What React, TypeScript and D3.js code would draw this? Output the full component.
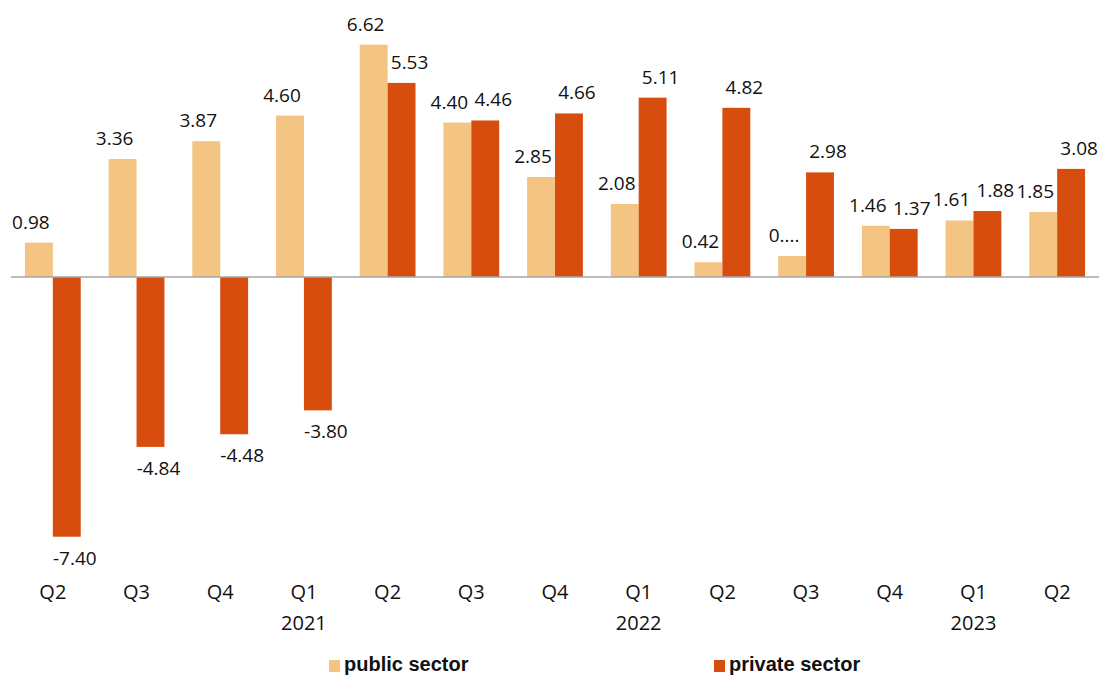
import React, { useEffect, useRef } from "react";
import * as d3 from "d3";

const quarters = ["Q2", "Q3", "Q4", "Q1", "Q2", "Q3", "Q4", "Q1", "Q2", "Q3", "Q4", "Q1", "Q2"];
const years = ["", "", "", "2021", "", "", "", "2022", "", "", "", "2023", ""];
const publicSector = [0.98, 3.36, 3.87, 4.6, 6.62, 4.4, 2.85, 2.08, 0.42, 0.6, 1.46, 1.61, 1.85];
const privateSector = [-7.4, -4.84, -4.48, -3.8, 5.53, 4.46, 4.66, 5.11, 4.82, 2.98, 1.37, 1.88, 3.08];
// label of this category is cut off in the original
const truncatedPublic = [9];
const seriesNames = ["public sector", "private sector"];

const WIDTH = 1105;
const HEIGHT = 675;
const colors = ["#F4C482", "#D74D0E"];

export default function App() {
  const ref = useRef<SVGSVGElement>(null);

  useEffect(() => {
    const svg = d3.select(ref.current);
    svg.selectAll("*").remove();

    const idx = quarters.map((_, i) => i);

    const x = d3.scaleBand<number>()
      .domain(idx)
      .range([11, 1099])
      .paddingInner(0)
      .paddingOuter(0);

    const inner = d3.scaleBand<number>()
      .domain([0, 1])
      .range([x.bandwidth() / 6, x.bandwidth() * 5 / 6])
      .padding(0);

    const y = d3.scaleLinear()
      .domain([-8, 8])
      .range([557.8, -3.8]);

    const series = [publicSector, privateSector];
    const labelFont = "'Open Sans', sans-serif";

    series.forEach((vals, s) => {
      const g = svg.append("g");
      g.selectAll("rect")
        .data(vals)
        .enter()
        .append("rect")
        .attr("x", (_, i) => x(i)! + inner(s)!)
        .attr("width", inner.bandwidth())
        .attr("y", d => y(Math.max(0, d)))
        .attr("height", d => Math.abs(y(d) - y(0)))
        .attr("fill", colors[s]);

      g.selectAll("text")
        .data(vals)
        .enter()
        .append("text")
        .attr("x", (_, i) => x(i)! + inner(s)! + inner.bandwidth() / 2 + (s === 0 ? -8 : 8))
        .attr("y", d => d >= 0 ? y(d) - 14 : y(d) + 28)
        .attr("text-anchor", "middle")
        .attr("font-family", labelFont)
        .attr("font-size", 19)
        .attr("fill", "#111")
        .text((d, i) => (s === 0 && truncatedPublic.includes(i)) ? "0...." : d.toFixed(2));
    });

    // zero line
    svg.append("line")
      .attr("x1", x.range()[0])
      .attr("x2", x.range()[1])
      .attr("y1", y(0))
      .attr("y2", y(0))
      .attr("stroke", "#a6a6a6")
      .attr("stroke-width", 1.5);

    // category labels
    const axis = svg.append("g")
      .attr("font-family", labelFont)
      .attr("font-size", 20)
      .attr("fill", "#111")
      .attr("text-anchor", "middle");

    axis.selectAll("text.q")
      .data(quarters)
      .enter()
      .append("text")
      .attr("class", "q")
      .attr("x", (_, i) => x(i)! + x.bandwidth() / 2)
      .attr("y", 599)
      .text(d => d);

    axis.selectAll("text.yr")
      .data(years)
      .enter()
      .append("text")
      .attr("class", "yr")
      .attr("x", (_, i) => x(i)! + x.bandwidth() / 2)
      .attr("y", 630)
      .text(d => d);

    // legend
    const legendX = [329, 714];
    const legend = svg.append("g");
    seriesNames.forEach((name, s) => {
      legend.append("rect")
        .attr("x", legendX[s])
        .attr("y", 660)
        .attr("width", 11)
        .attr("height", 12)
        .attr("fill", colors[s]);
      legend.append("text")
        .attr("x", legendX[s] + 15)
        .attr("y", 671)
        .attr("font-family", "'Liberation Sans', Arial, sans-serif")
        .attr("font-weight", "bold")
        .attr("font-size", 20)
        .attr("fill", "#111")
        .text(name);
    });
  }, []);

  return (
    <svg
      ref={ref}
      width={WIDTH}
      height={HEIGHT}
      style={{ position: "absolute", left: 0, top: 0, background: "#fff" }}
    />
  );
}
